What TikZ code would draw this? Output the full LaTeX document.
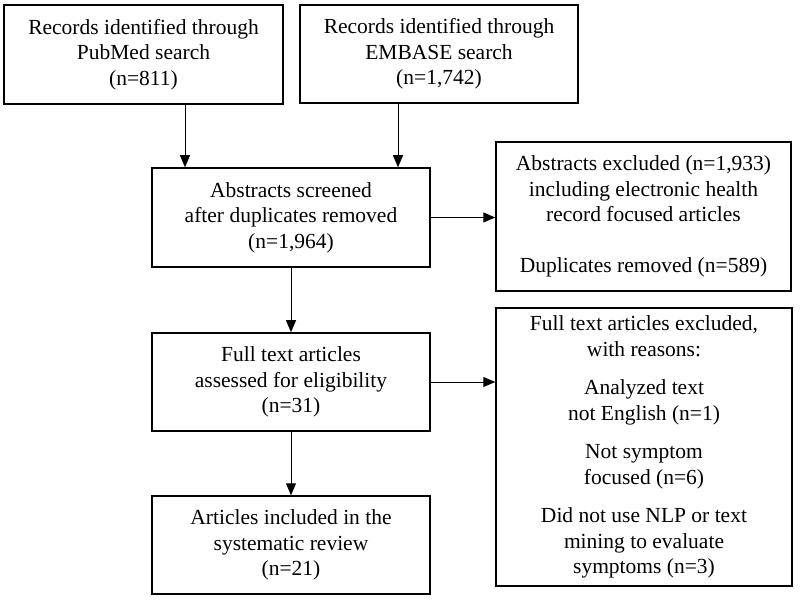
\documentclass[tikz,border=0pt]{standalone}
\usepackage{fontspec}
\setmainfont{Liberation Serif}
\usetikzlibrary{arrows.meta}

\begin{document}
\begin{tikzpicture}[x=1pt,y=-1pt,
    box/.style={draw,line width=1.5pt,align=center,inner sep=0pt,
      font=\fontsize{21.5}{25.5}\selectfont},
    flow/.style={-{Triangle[length=12pt,width=10pt]},line width=1pt}]
  \useasboundingbox (0,0) rectangle (800,601);
  \node[box,minimum width=279pt,minimum height=99pt] (PM) at (143.5,54.5)
    {Records identified through\\PubMed search\\(n=811)};
  \node[box,minimum width=278pt,minimum height=98pt] (EM) at (439,54)
    {Records identified through\\EMBASE search\\(n=1,742)};
  \node[box,minimum width=278pt,minimum height=99pt] (SC) at (291,217.5)
    {Abstracts screened\\after duplicates removed\\(n=1,964)};
  \node[box,minimum width=295pt,minimum height=149pt] (AX) at (643.5,216.5)
    {Abstracts excluded (n=1,933)\\including electronic health\\record focused articles\\[25.5pt]Duplicates removed (n=589)};
  \node[box,minimum width=278pt,minimum height=98pt] (FT) at (291,382)
    {Full text articles\\assessed for eligibility\\(n=31)};
  \node[box,minimum width=296pt,minimum height=278pt] (FX) at (644,447)
    {Full text articles excluded,\\with reasons:\\[13pt]Analyzed text\\not English (n=1)\\[13pt]Not symptom\\focused (n=6)\\[13pt]Did not use NLP or text\\mining to evaluate\\symptoms (n=3)};
  \node[box,minimum width=278pt,minimum height=98pt] (IN) at (291,545)
    {Articles included in the\\systematic review\\(n=21)};
  \draw[flow] ([xshift=41.5pt]PM.south) -- ([xshift=41.5pt]PM.south |- SC.north);
  \draw[flow] ([xshift=-41pt]EM.south) -- ([xshift=-41pt]EM.south |- SC.north);
  \draw[flow] (SC.east) -- (SC.east -| AX.west);
  \draw[flow] (SC) -- (FT);
  \draw[flow] (FT.east) -- (FT.east -| FX.west);
  \draw[flow] (FT) -- (IN);
\end{tikzpicture}
\end{document}
